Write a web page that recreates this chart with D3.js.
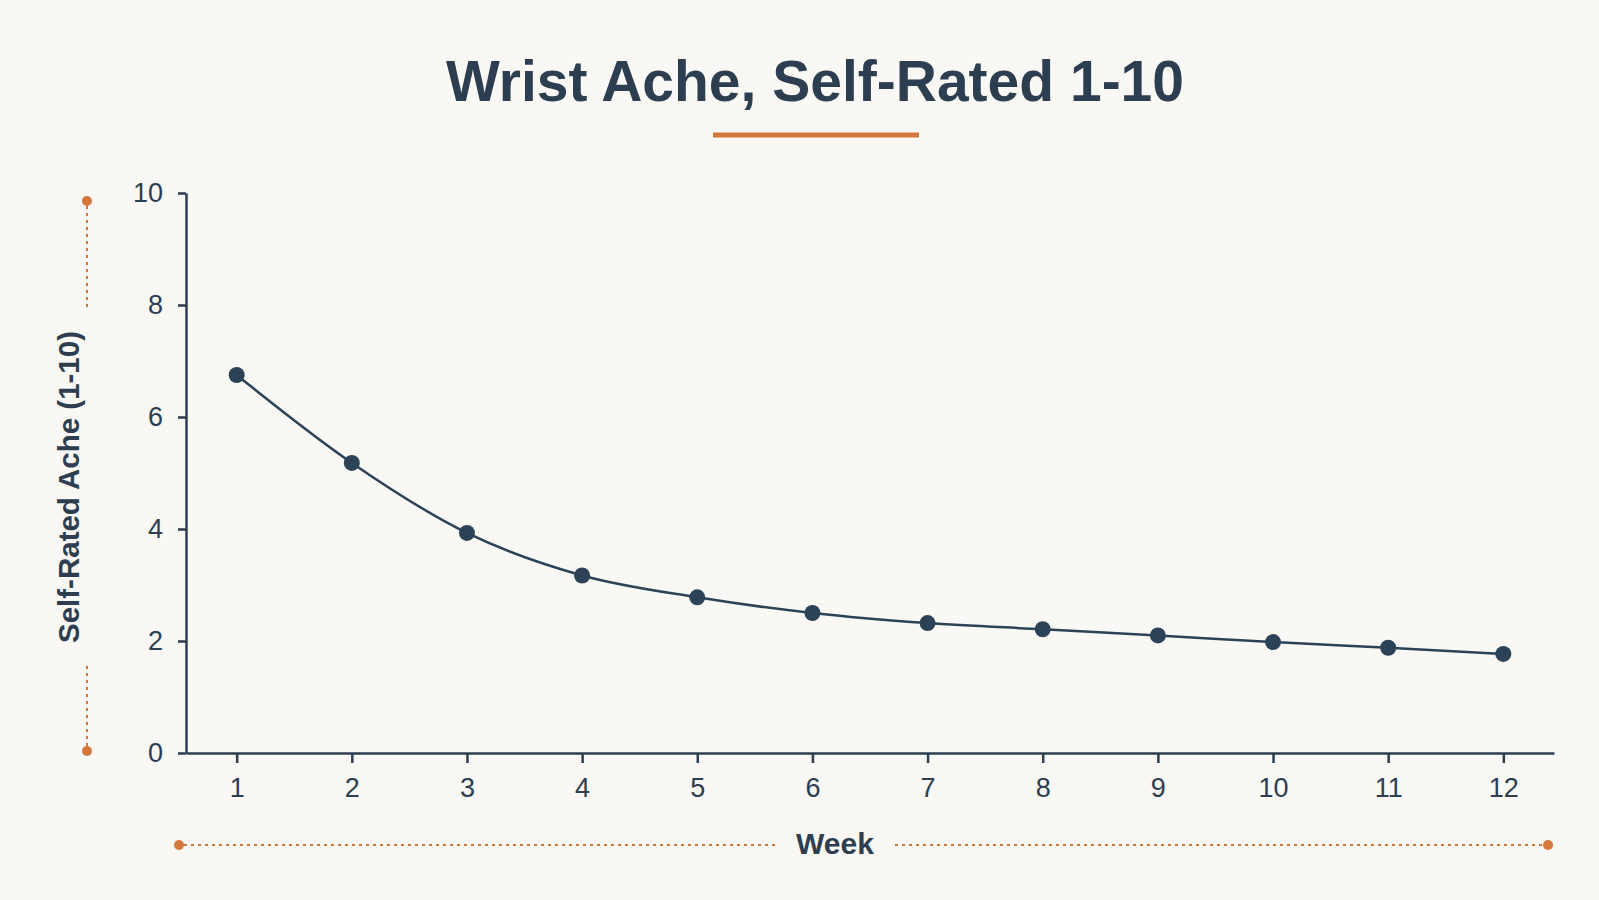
<!DOCTYPE html>
<html>
<head>
<meta charset="utf-8">
<script src="https://cdn.jsdelivr.net/npm/d3@7"></script>
<style>
  body { margin: 0; background: #f9f8f4; }
  svg { display: block; font-family: "Liberation Sans", Arial, sans-serif; }
</style>
</head>
<body>
<div class="container"></div>
<script>
// Chart data
const weeks = [1, 2, 3, 4, 5, 6, 7, 8, 9, 10, 11, 12];
const ache = [6.75, 5.18, 3.93, 3.17, 2.78, 2.5, 2.32, 2.21, 2.1, 1.98, 1.88, 1.77];
const yTicks = [0, 2, 4, 6, 8, 10];

const width = 1599;
const height = 900;
const ink = "#2c3e50";
const orange = "#d4773b";

const svg = d3.select(".container").append("svg")
    .attr("width", width)
    .attr("height", height);

svg.append("rect")
    .attr("width", width)
    .attr("height", height)
    .attr("fill", "#f9f8f4");

// Scales
const x = d3.scalePoint()
    .domain(weeks)
    .range([186, 1554])
    .padding(0.44);

const y = d3.scaleLinear()
    .domain([0, 10])
    .range([753, 193]);

// Title + underline
svg.append("text")
    .attr("x", 815)
    .attr("y", 101)
    .attr("text-anchor", "middle")
    .attr("font-size", 57)
    .attr("font-weight", "bold")
    .attr("fill", ink)
    .text("Wrist Ache, Self-Rated 1-10");

svg.append("line")
    .attr("x1", 713).attr("x2", 919)
    .attr("y1", 135).attr("y2", 135)
    .attr("stroke", orange)
    .attr("stroke-width", 5);

// Axes
const yAxis = svg.append("g")
    .attr("transform", "translate(186,0)")
    .call(d3.axisLeft(y).tickValues(yTicks).tickSize(8).tickSizeOuter(0).tickPadding(15));

const xAxis = svg.append("g")
    .attr("transform", "translate(0,753)")
    .call(d3.axisBottom(x).tickSize(10).tickSizeOuter(0).tickPadding(15));

[yAxis, xAxis].forEach(g => {
  g.selectAll("path, line").attr("stroke", ink).attr("stroke-width", 2.5);
  g.selectAll("text")
      .attr("fill", ink)
      .attr("font-size", 27)
      .attr("font-family", "Liberation Sans, Arial, sans-serif");
});

// Line + points
const line = d3.line()
    .x((d, i) => x(weeks[i]))
    .y(d => y(d))
    .curve(d3.curveMonotoneX);

svg.append("path")
    .datum(ache)
    .attr("fill", "none")
    .attr("stroke", "#2c4257")
    .attr("stroke-width", 2.5)
    .attr("d", line);

svg.append("g")
  .selectAll("circle")
  .data(ache)
  .enter().append("circle")
    .attr("cx", (d, i) => x(weeks[i]))
    .attr("cy", d => y(d))
    .attr("r", 8)
    .attr("fill", "#2c4257");

// Axis titles with dotted orange guides
svg.append("text")
    .attr("x", 835)
    .attr("y", 854)
    .attr("text-anchor", "middle")
    .attr("font-size", 30)
    .attr("font-weight", "bold")
    .attr("fill", ink)
    .text("Week");

const guides = svg.append("g")
    .attr("stroke", orange)
    .attr("stroke-width", 2)
    .attr("stroke-dasharray", "3,4");

guides.append("line").attr("x1", 184).attr("x2", 775).attr("y1", 845).attr("y2", 845);
guides.append("line").attr("x1", 895).attr("x2", 1543).attr("y1", 845).attr("y2", 845);
guides.append("line").attr("x1", 87).attr("x2", 87).attr("y1", 206).attr("y2", 308);
guides.append("line").attr("x1", 87).attr("x2", 87).attr("y1", 666).attr("y2", 746);

[[179, 845], [1548, 845], [87, 201], [87, 751]].forEach(p => {
  svg.append("circle")
      .attr("cx", p[0]).attr("cy", p[1])
      .attr("r", 5)
      .attr("fill", orange);
});

svg.append("text")
    .attr("transform", "translate(79,487) rotate(-90)")
    .attr("text-anchor", "middle")
    .attr("font-size", 29.5)
    .attr("font-weight", "bold")
    .attr("fill", ink)
    .text("Self-Rated Ache (1-10)");
</script>
</body>
</html>
